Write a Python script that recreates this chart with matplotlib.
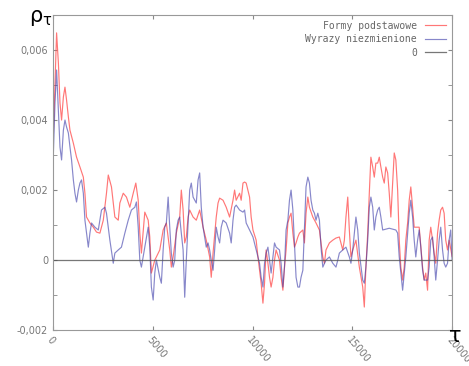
import matplotlib.pyplot as plt
from matplotlib.ticker import MultipleLocator, FuncFormatter

# Formy podstawowe (red)
t_red = [0, 180, 270, 350, 430, 520, 600, 680, 770, 850, 1020, 1180, 1350, 1520, 1600,
         1680, 1850, 2020, 2180, 2350, 2520, 2680, 2770, 2930, 3100, 3270, 3350, 3520,
         3680, 3850, 4020, 4150, 4270, 4350, 4430, 4600, 4770, 4850, 4930, 5100, 5180,
         5350, 5520, 5680, 5850, 5930, 6020, 6180, 6350, 6430, 6520, 6600, 6680, 6770,
         6850, 7020, 7180, 7350, 7520, 7680, 7850, 7930, 8020, 8180, 8270, 8350, 8520,
         8680, 8850, 9020, 9100, 9180, 9350, 9430, 9520, 9600, 9680, 9850, 9930, 10020,
         10180, 10270, 10430, 10520, 10600, 10680, 10770, 10850, 10930, 11020, 11100,
         11180, 11350, 11430, 11520, 11600, 11680, 11770, 11850, 11930, 12020, 12100,
         12180, 12270, 12350, 12520, 12600, 12680, 12770, 12850, 13020, 13180, 13350,
         13520, 13600, 13680, 13850, 14020, 14180, 14350, 14520, 14600, 14680, 14770,
         14850, 14930, 15020, 15180, 15350, 15520, 15600, 15680, 15770, 15850, 15930,
         16020, 16100, 16180, 16270, 16350, 16430, 16520, 16600, 16680, 16770, 16850,
         16930, 17020, 17100, 17180, 17270, 17350, 17430, 17520, 17600, 17680, 17770,
         17850, 17930, 18020, 18100, 18350, 18520, 18600, 18680, 18770, 18850, 18930,
         19020, 19100, 19180, 19270, 19350, 19430, 19520, 19600, 19680, 19770, 19850, 20000]
v_red = [3.23, 6.49, 5.63, 4.49, 4.0, 4.66, 4.94, 4.57, 4.09, 3.71, 3.34, 2.94, 2.66, 2.37, 1.91,
         1.23, 1.06, 0.94, 0.80, 0.77, 1.14, 1.91, 2.43, 2.09, 1.23, 1.14, 1.63, 1.91,
         1.80, 1.51, 1.91, 2.2, 1.71, 0.77, 0.2, 1.37, 1.14, 0.66, -0.37, 0.0, 0.09,
         0.29, 0.86, 1.06, 0.29, -0.2, 0.09, 0.77, 1.23, 2.0, 1.43, 0.49, 0.66, 1.23,
         1.43, 1.23, 1.14, 1.43, 0.94, 0.57, 0.09, -0.49, 0.2, 1.23, 1.63, 1.77, 1.71,
         1.51, 1.23, 1.71, 2.0, 1.71, 1.91, 1.71, 2.2, 2.23, 2.2, 1.8, 1.23, 0.86,
         0.57, 0.09, -0.66, -1.23, -0.66, 0.29, -0.09, -0.49, -0.77, -0.49, 0.0,
         0.29, 0.0, -0.49, -0.86, -0.2, 0.29, 1.06, 1.23, 1.34, 0.77, 0.37,
         0.49, 0.66, 0.77, 0.86, 0.49, 1.34, 1.8, 1.51, 1.23, 1.06, 0.86,
         0.09, -0.09, 0.29, 0.49, 0.57, 0.63, 0.66, 0.29, 0.57, 1.23, 1.8,
         0.86, 0.09, 0.29, 0.57, -0.2, -0.77, -1.34, -0.2, 0.77, 1.91, 2.94,
         2.66, 2.37, 2.77, 2.77, 2.94, 2.66, 2.37, 2.2, 2.66, 2.49, 1.91,
         1.23, 2.2, 3.06, 2.86, 2.0, 0.57, -0.2, -0.57, -0.2, 0.57, 1.06,
         1.71, 2.09, 1.51, 0.94, 0.94, -0.2, -0.57, -0.37, -0.86, 0.57, 0.94,
         0.57, 0.2, -0.09, 0.77, 1.14, 1.43, 1.51, 1.34, 0.57, 0.29, 0.57, 0.1]

# Wyrazy niezmienione (blue)
t_blue = [0, 20, 100, 180, 270, 350, 430, 520, 600, 680, 770, 850, 930, 1020, 1100, 1180,
          1270, 1350, 1430, 1520, 1600, 1680, 1770, 1850, 1930, 2100, 2270, 2350, 2430,
          2600, 2680, 2770, 2850, 3020, 3100, 3270, 3430, 3600, 3770, 3930, 4100, 4180,
          4270, 4350, 4430, 4600, 4770, 4850, 4930, 5020, 5100, 5180, 5350, 5430, 5520,
          5600, 5680, 5770, 5850, 5930, 6020, 6100, 6180, 6270, 6350, 6430, 6520, 6600,
          6680, 6770, 6850, 6930, 7020, 7180, 7270, 7350, 7430, 7520, 7680, 7770, 7850,
          7930, 8020, 8100, 8180, 8270, 8350, 8430, 8520, 8680, 8850, 8930, 9020, 9100,
          9180, 9350, 9520, 9600, 9680, 9850, 10020, 10180, 10350, 10430, 10520, 10600,
          10680, 10770, 10850, 10930, 11020, 11100, 11180, 11350, 11430, 11520, 11600,
          11680, 11770, 11850, 11930, 12020, 12100, 12180, 12270, 12350, 12430, 12520,
          12600, 12680, 12770, 12850, 12930, 13020, 13100, 13180, 13270, 13350, 13430,
          13520, 13680, 13850, 14020, 14180, 14270, 14350, 14520, 14680, 14850, 14930,
          15020, 15180, 15270, 15350, 15520, 15600, 15680, 15770, 15850, 15930, 16020,
          16100, 16180, 16270, 16350, 16430, 16520, 16850, 17180, 17270, 17350, 17430,
          17520, 17600, 17680, 17770, 17850, 17930, 18020, 18100, 18180, 18270, 18350,
          18430, 18520, 18600, 18770, 18850, 18930, 19020, 19100, 19180, 19270, 19350,
          19430, 19520, 19600, 19680, 19770, 19850, 19930, 20000]
v_blue = [2.09, 3.06, 4.49, 5.43, 4.29, 3.23, 2.86, 3.71, 4.0, 3.8, 3.63, 3.23, 2.86, 2.29, 1.91, 1.66,
          2.0, 2.2, 2.29, 1.91, 1.14, 0.77, 0.37, 0.77, 1.06, 0.94, 0.86, 1.14, 1.43,
          1.51, 1.34, 0.94, 0.57, -0.09, 0.2, 0.29, 0.37, 0.77, 1.14, 1.43, 1.51, 1.66,
          0.94, 0.0, -0.2, 0.37, 0.94, 0.37, -0.77, -1.14, -0.37, 0.0, -0.49, -0.66, 0.29,
          0.94, 1.06, 1.8, 0.94, 0.2, -0.2, 0.0, 0.86, 1.14, 1.23, 0.77, 0.29, -1.06,
          0.0, 1.06, 2.0, 2.2, 1.8, 1.63, 2.29, 2.49, 1.51, 0.94, 0.37, 0.49, 0.29,
          0.0, -0.29, 0.29, 0.94, 0.66, 0.49, 0.94, 1.14, 1.06, 0.77, 0.49, 1.14, 1.51,
          1.57, 1.43, 1.37, 1.43, 1.06, 0.86, 0.66, 0.29, -0.09, -0.49, -0.77, -0.09,
          0.2, 0.37, 0.0, -0.37, 0.09, 0.49, 0.37, 0.29, -0.09, -0.77, -0.2,
          0.86, 1.14, 1.71, 2.0, 1.43, 0.49, -0.49, -0.77, -0.77, -0.49, -0.29,
          0.86, 2.09, 2.37, 2.2, 1.71, 1.43, 1.34, 1.14, 1.34, 1.14, 0.37,
          -0.2, 0.0, 0.09, -0.09, -0.2, 0.0, 0.2, 0.29, 0.37, 0.09, -0.09,
          0.29, 1.23, 0.86, 0.2, -0.57, -0.66, -0.2, 0.57, 1.51, 1.8, 1.51,
          0.86, 1.23, 1.43, 1.51, 1.23, 0.86, 0.91, 0.86, 0.77, 0.09, -0.37,
          -0.86, -0.37, 0.09, 0.77, 1.34, 1.71, 1.23, 0.57, 0.09, 0.57, 0.86,
          0.37, -0.29, -0.57, -0.57, -0.2, 0.57, 0.66, 0.09, -0.57, 0.0, 0.57,
          0.94, 0.29, -0.09, -0.2, -0.09, 0.57, 0.86, 0.0]

# values above are read in units of 1e-3
v_red = [v / 1000 for v in v_red]
v_blue = [v / 1000 for v in v_blue]

fig = plt.figure(figsize=(4.69, 3.66), dpi=100)
ax = fig.add_axes([0.113, 0.098, 0.851, 0.861])

ax.plot(t_red, v_red, color='#ff4a4a', lw=0.85, alpha=0.75, label='Formy podstawowe')
ax.plot(t_blue, v_blue, color='#3838a8', lw=0.85, alpha=0.6, label='Wyrazy niezmienione')
ax.axhline(0, color='#555555', lw=0.9, alpha=0.8, label='0')

ax.set_xlim(0, 20000)
ax.set_ylim(-0.002, 0.007)

ax.xaxis.set_major_locator(MultipleLocator(5000))
ax.yaxis.set_major_locator(MultipleLocator(0.002))
ax.yaxis.set_minor_locator(MultipleLocator(0.001))
ax.yaxis.set_major_formatter(FuncFormatter(lambda v, p: '0' if abs(v) < 1e-12 else ('%.3f' % v).replace('.', ',')))

ax.tick_params(which='both', direction='in', colors='#888888', labelcolor='#777777',
               labelsize=7, top=True, right=True, length=3)
for lab in ax.get_xticklabels():
    lab.set_rotation(-50)
    lab.set_ha('left')
    lab.set_va('top')
    lab.set_rotation_mode('anchor')

for s in ax.spines.values():
    s.set_color('#999999')

fig.text(0.062, 0.952, r'$\mathregular{\rho_\tau}$', fontsize=15, ha='left', va='center')
fig.text(0.97, 0.083, r'$\mathregular{\tau}$', fontsize=15, ha='center', va='center')

leg = ax.legend(loc='upper right', frameon=False, markerfirst=False, handlelength=2.2,
                prop={'family': 'DejaVu Sans Mono', 'size': 7}, labelspacing=0.35,
                borderaxespad=0.2)
for txt in leg.get_texts():
    txt.set_color('#666666')

fig.savefig('out.png', dpi=100)
